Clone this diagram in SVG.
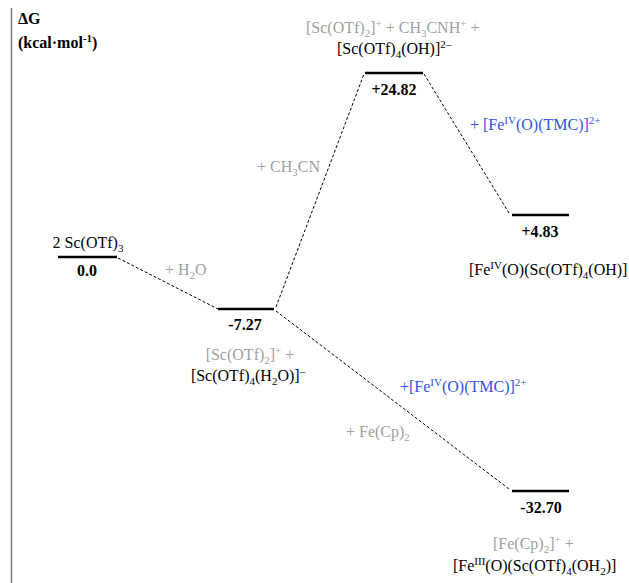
<svg xmlns="http://www.w3.org/2000/svg" width="629" height="583" viewBox="0 0 629 583">
<style>
text{font-family:"Liberation Serif","Times New Roman",serif;font-size:16px;fill:#000}
.g{fill:#a0a0a0}
.b{fill:#2f55e0}
.v{font-weight:bold}
.lvl{stroke:#000;stroke-width:2.5;fill:none}
.con{stroke:#000;stroke-width:1;stroke-dasharray:3,2;fill:none}
.s{font-size:11px;baseline-shift:-4px}
.p{font-size:11px;baseline-shift:6px}
</style>
<rect width="629" height="583" fill="#fff"/>
<g id="axis">
<line x1="11.5" y1="8" x2="11.5" y2="583" stroke="#777" stroke-width="1.5"/>
<text x="18" y="24" class="v">ΔG</text>
<text x="18" y="48" class="v">(kcal·mol<tspan class="p">-1</tspan>)</text>
</g>
<g id="connectors">
<line class="con" x1="118" y1="258" x2="218" y2="309"/>
<line class="con" x1="276" y1="307" x2="364" y2="74"/>
<line class="con" x1="424" y1="74" x2="509" y2="213"/>
<line class="con" x1="276" y1="311" x2="509" y2="489"/>
<text x="165" y="275" class="g">+ H<tspan class="s">2</tspan>O</text>
<text x="257" y="172" class="g">+ CH<tspan class="s">3</tspan>CN</text>
<text x="470" y="130" class="b">+ [Fe<tspan class="p">IV</tspan>(O)(TMC)]<tspan class="p">2+</tspan></text>
<text x="400" y="392" class="b">+[Fe<tspan class="p">IV</tspan>(O)(TMC)]<tspan class="p">2+</tspan></text>
<text x="346" y="437" class="g">+ Fe(Cp)<tspan class="s">2</tspan></text>
</g>
<g id="n1">
<line class="lvl" x1="58" y1="257" x2="117" y2="257"/>
<text x="88" y="248" text-anchor="middle">2 Sc(OTf)<tspan class="s">3</tspan></text>
<text x="87" y="276" class="v" text-anchor="middle">0.0</text>
</g>
<g id="n2">
<line class="lvl" x1="218" y1="309" x2="274" y2="309"/>
<text x="245" y="330" class="v" text-anchor="middle">-7.27</text>
<text x="250" y="360" class="g" text-anchor="middle">[Sc(OTf)<tspan class="s">2</tspan>]<tspan class="p">+</tspan> +</text>
<text x="248" y="381" text-anchor="middle">[Sc(OTf)<tspan class="s">4</tspan>(H<tspan class="s">2</tspan>O)]<tspan class="p">–</tspan></text>
</g>
<g id="n3">
<line class="lvl" x1="365" y1="73" x2="423" y2="73"/>
<text x="394" y="95" class="v" text-anchor="middle">+24.82</text>
<text x="306" y="33" class="g">[Sc(OTf)<tspan class="s">2</tspan>]<tspan class="p">+</tspan> + CH<tspan class="s">3</tspan>CNH<tspan class="p">+</tspan> +</text>
<text x="337" y="54">[Sc(OTf)<tspan class="s">4</tspan>(OH)]<tspan class="p">2–</tspan></text>
</g>
<g id="n4">
<line class="lvl" x1="512" y1="215" x2="569" y2="215"/>
<text x="540" y="237" class="v" text-anchor="middle">+4.83</text>
<text x="469" y="275">[Fe<tspan class="p">IV</tspan>(O)(Sc(OTf)<tspan class="s">4</tspan>(OH)]</text>
</g>
<g id="n5">
<line class="lvl" x1="512" y1="491" x2="569" y2="491"/>
<text x="541" y="513" class="v" text-anchor="middle">-32.70</text>
<text x="493" y="549" class="g">[Fe(Cp)<tspan class="s">2</tspan>]<tspan class="p">+</tspan> +</text>
<text x="453" y="571">[Fe<tspan class="p">III</tspan>(O)(Sc(OTf)<tspan class="s">4</tspan>(OH<tspan class="s">2</tspan>)]</text>
</g>
</svg>
